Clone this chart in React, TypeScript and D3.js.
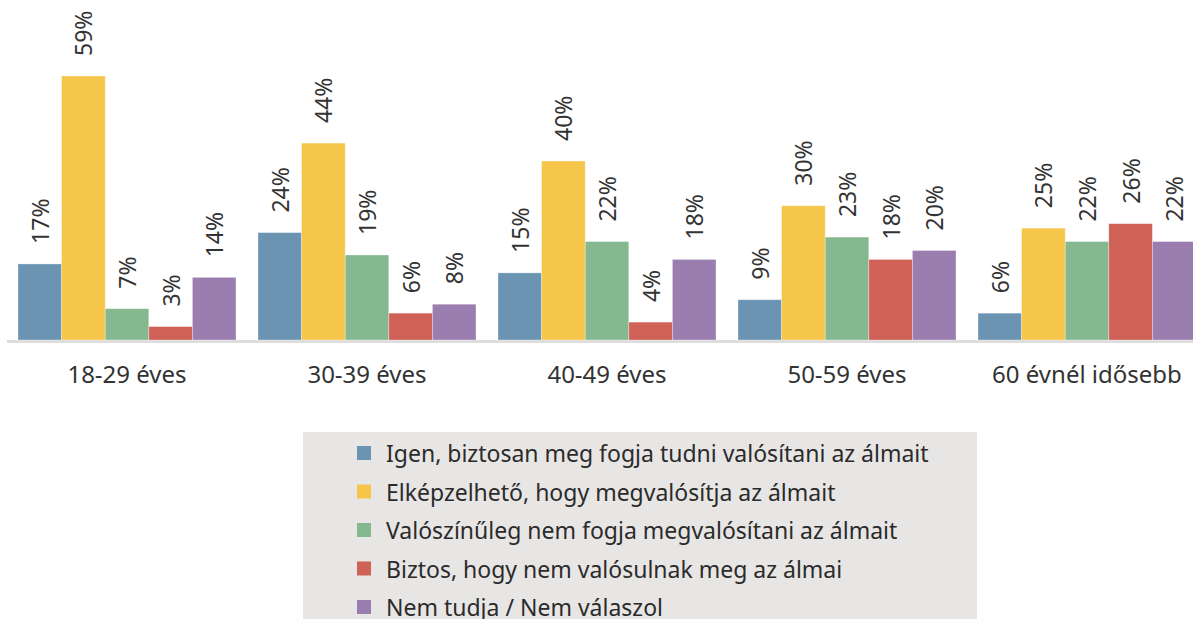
import React, { useEffect, useRef } from 'react'
import * as d3 from 'd3'

const categories = ['18-29 éves', '30-39 éves', '40-49 éves', '50-59 éves', '60 évnél idősebb']
const seriesNames = [
  'Igen, biztosan meg fogja tudni valósítani az álmait',
  'Elképzelhető, hogy megvalósítja az álmait',
  'Valószínűleg nem fogja megvalósítani az álmait',
  'Biztos, hogy nem valósulnak meg az álmai',
  'Nem tudja / Nem válaszol',
]
const igen = [17, 24, 15, 9, 6]
const elkepzelheto = [59, 44, 40, 30, 25]
const valoszinuleg = [7, 19, 22, 23, 22]
const biztos = [3, 6, 4, 18, 26]
const nemTudja = [14, 8, 18, 20, 22]
const colors = ['#6a94b1', '#f5c64a', '#86b88f', '#d06156', '#9b7eb0']

const W = 1193
const H = 619
const font = '"Noto Sans", sans-serif'

export default function App() {
  const ref = useRef<SVGSVGElement>(null)

  useEffect(() => {
    const series = [igen, elkepzelheto, valoszinuleg, biztos, nemTudja]
    const svg = d3.select(ref.current)
    svg.selectAll('*').remove()

    const baseY = 340
    const x0 = d3.scaleBand<string>()
      .domain(categories)
      .range([7, 1207])
      .paddingInner(22 / 240)
      .paddingOuter(11 / 240)
    const x1 = d3.scaleBand<number>()
      .domain(d3.range(seriesNames.length))
      .range([0, x0.bandwidth()])
    const y = d3.scaleLinear().domain([0, 59]).range([baseY, 76])

    // axis line
    svg.append('line')
      .attr('x1', 7).attr('x2', W)
      .attr('y1', baseY + 1.5).attr('y2', baseY + 1.5)
      .attr('stroke', '#dddddd').attr('stroke-width', 3)

    const groups = svg.selectAll('g.grp')
      .data(categories)
      .enter()
      .append('g')
      .attr('class', 'grp')
      .attr('transform', d => 'translate(' + x0(d) + ',0)')

    groups.each(function (cat, ci) {
      const g = d3.select(this)
      series.forEach((vals, si) => {
        const v = vals[ci]
        g.append('rect')
          .attr('x', x1(si)!)
          .attr('y', y(v))
          .attr('width', x1.bandwidth())
          .attr('height', baseY - y(v))
          .attr('fill', colors[si])
          .attr('stroke', '#ffffff')
          .attr('stroke-opacity', 0.4)
          .attr('stroke-width', 0.8)
        const cx = x1(si)! + x1.bandwidth() / 2
        const ty = y(v) - 20
        g.append('text')
          .attr('transform', 'translate(' + cx + ',' + ty + ') rotate(-90)')
          .attr('dominant-baseline', 'central')
          .attr('text-anchor', 'start')
          .attr('font-family', font)
          .attr('font-size', 23)
          .attr('fill', '#333333')
          .text(v + '%')
      })
      g.append('text')
        .attr('x', x0.bandwidth() / 2)
        .attr('y', 383)
        .attr('text-anchor', 'middle')
        .attr('font-family', font)
        .attr('font-size', 24)
        .attr('fill', '#333333')
        .text(cat)
    })

    // legend
    const leg = svg.append('g')
    leg.append('rect')
      .attr('x', 303).attr('y', 432)
      .attr('width', 674).attr('height', 200)
      .attr('fill', '#e8e6e4')
    const ly = d3.scaleLinear().domain([0, 4]).range([453, 607])
    seriesNames.forEach((name, i) => {
      leg.append('rect')
        .attr('x', 357).attr('y', ly(i) - 7)
        .attr('width', 14).attr('height', 14)
        .attr('fill', colors[i])
      leg.append('text')
        .attr('x', 386).attr('y', ly(i))
        .attr('dominant-baseline', 'central')
        .attr('font-family', font)
        .attr('font-size', 23)
        .attr('fill', '#2b2b2b')
        .text(name)
    })
  }, [])

  return (
    <svg ref={ref} width={W} height={H} style={{ position: 'absolute', left: 0, top: 0, background: '#ffffff' }} />
  )
}
